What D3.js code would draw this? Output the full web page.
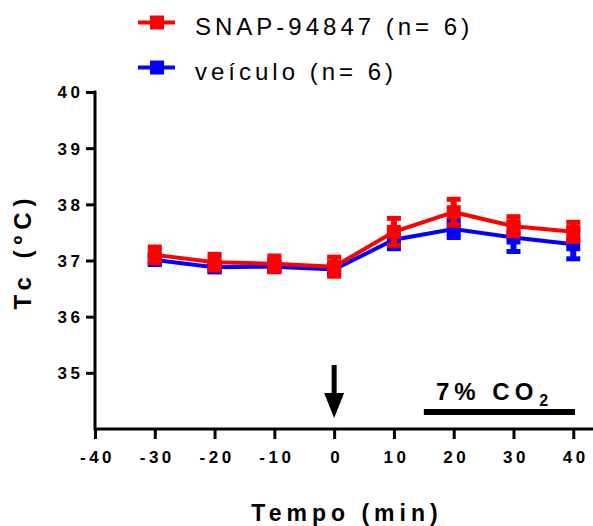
<!DOCTYPE html>
<html><head><meta charset="utf-8">
<script src="https://cdn.jsdelivr.net/npm/d3@7"></script>
<style>
html,body{margin:0;padding:0;background:#fff;}
svg{display:block;font-family:"Liberation Sans",Arial,sans-serif;}
</style></head>
<body>
<svg id="chart" width="593" height="526"></svg>
<script>
const times = [-30, -20, -10, 0, 10, 20, 30, 40];
const snapMean = [37.10, 36.97, 36.94, 36.89, 37.51, 37.86, 37.61, 37.51];
const snapErr  = [0.14, 0.14, 0.14, 0.17, 0.24, 0.23, 0.17, 0.17];
const vehMean  = [37.01, 36.88, 36.89, 36.84, 37.37, 37.56, 37.41, 37.29];
const vehErr   = [0.08, 0.08, 0.08, 0.08, 0.16, 0.15, 0.25, 0.26];
const xTicks = [-40, -30, -20, -10, 0, 10, 20, 30, 40];
const yTicks = [35, 36, 37, 38, 39, 40];
const seriesNames = ["SNAP-94847 (n= 6)", "veículo (n= 6)"];
const seriesColors = ["#ff0000", "#0000ff"];
const arrowTime = 0;
const co2Start = 15, co2End = 40.3;

const svg = d3.select("#chart");
const x = d3.scaleLinear().domain([-40, 43.3]).range([95, 593]);
const y = d3.scaleLinear().domain([34, 40]).range([429, 92]);
const fmt = d => String(d);

// axes
const xAxis = svg.append("g").attr("transform", "translate(0,429)")
  .call(d3.axisBottom(x).tickValues(xTicks).tickSize(10).tickPadding(9).tickFormat(fmt));
const yAxis = svg.append("g").attr("transform", "translate(95,0)")
  .call(d3.axisLeft(y).tickValues(yTicks).tickSize(9).tickPadding(6).tickFormat(fmt));
[xAxis, yAxis].forEach(g => {
  g.attr("font-family", null).attr("font-size", null);
  g.select(".domain").attr("stroke", "#000").attr("stroke-width", 3);
  g.selectAll(".tick line").attr("stroke", "#000").attr("stroke-width", 3);
  g.selectAll(".tick text").attr("fill", "#000")
    .style("font-size", "17px").style("font-weight", "bold")
    .style("font-family", "'Liberation Sans', Arial, sans-serif").style("letter-spacing", "3.5px");
});
xAxis.select(".domain").attr("d", `M${x(-40)},0H593`);
yAxis.select(".domain").attr("d", `M0,${y(34)+1.5}V${y(40)-1.5}`);
xAxis.selectAll(".tick text").attr("dx", 2).attr("dy", "0.9em");
yAxis.selectAll(".tick text").attr("dx", 3.5).attr("dy", "0.35em");

// axis titles
svg.append("text").attr("x", 347).attr("y", 521).attr("text-anchor", "middle")
  .attr("font-size", 23).attr("font-weight", "bold").attr("letter-spacing", 5)
  .text("Tempo (min)");
svg.append("text").attr("transform", "translate(31,251) rotate(-90)").attr("text-anchor", "middle")
  .attr("font-size", 24).attr("font-weight", "bold").attr("letter-spacing", 6)
  .text("Tc (ºC)");

// series
const series = [
  {mean: vehMean, err: vehErr, color: seriesColors[1]},
  {mean: snapMean, err: snapErr, color: seriesColors[0]}
];
const line = d3.line().x(d => x(d.t)).y(d => y(d.m));
series.forEach(s => {
  const pts = times.map((t, i) => ({t, m: s.mean[i], e: s.err[i]}));
  const g = svg.append("g");
  g.append("path").datum(pts).attr("d", line).attr("fill", "none")
    .attr("stroke", s.color).attr("stroke-width", 4);
  g.selectAll("line.stem").data(pts).enter().append("line")
    .attr("x1", d => x(d.t)).attr("x2", d => x(d.t))
    .attr("y1", d => y(d.m + d.e)).attr("y2", d => y(d.m - d.e))
    .attr("stroke", s.color).attr("stroke-width", 6);
  [1, -1].forEach(sg => {
    g.selectAll(null).data(pts).enter().append("line")
      .attr("x1", d => x(d.t) - 7).attr("x2", d => x(d.t) + 7)
      .attr("y1", d => y(d.m + sg * d.e)).attr("y2", d => y(d.m + sg * d.e))
      .attr("stroke", s.color).attr("stroke-width", 5);
  });
  g.selectAll("rect").data(pts).enter().append("rect")
    .attr("x", d => x(d.t) - 7).attr("y", d => y(d.m) - 7)
    .attr("width", 14).attr("height", 14).attr("fill", s.color);
});

// arrow
const ax = x(arrowTime);
svg.append("rect").attr("x", ax - 2.5).attr("y", 365).attr("width", 5).attr("height", 30).attr("fill", "#000");
svg.append("path").attr("d", `M${ax-10},393L${ax+10},393L${ax},418Z`).attr("fill", "#000");

// CO2 bar
svg.append("rect").attr("x", x(co2Start)).attr("y", 409).attr("width", x(co2End) - x(co2Start))
  .attr("height", 6).attr("fill", "#000");
const co2 = svg.append("text").attr("x", 436).attr("y", 400).attr("font-size", 24)
  .attr("font-weight", "bold").attr("letter-spacing", 5);
co2.append("tspan").text("7% CO");
co2.append("tspan").attr("font-size", 16).attr("dy", 6).attr("dx", 1).text("2");

// legend
const leg = svg.append("g");
seriesNames.forEach((name, i) => {
  const cy = i === 0 ? 22.5 : 67.5;
  leg.append("line").attr("x1", 138).attr("x2", 175).attr("y1", cy).attr("y2", cy)
    .attr("stroke", seriesColors[i]).attr("stroke-width", 4);
  leg.append("rect").attr("x", 150).attr("y", cy - 7).attr("width", 14).attr("height", 14)
    .attr("fill", seriesColors[i]);
  leg.append("text").attr("x", 195).attr("y", cy + 12.5).attr("font-size", 24)
    .attr("letter-spacing", 4).attr("fill", "#000").text(name);
});
</script>
</body></html>
